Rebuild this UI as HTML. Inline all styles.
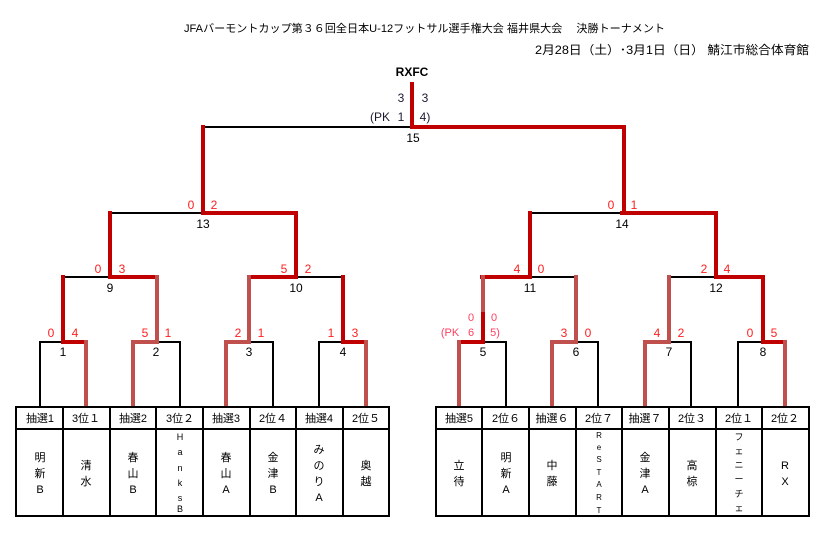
<!DOCTYPE html>
<html><head><meta charset="utf-8"><style>
html,body{margin:0;padding:0;background:#fff;}
svg{display:block;font-family:"Liberation Sans","Noto Sans CJK JP",sans-serif;}
</style></head><body>
<svg width="838" height="542" viewBox="0 0 838 542" xmlns="http://www.w3.org/2000/svg">
<rect width="838" height="542" fill="#fff"/>
<text x="184" y="32" font-size="11" fill="#000" textLength="481" lengthAdjust="spacingAndGlyphs">JFAバーモントカップ第３６回全日本U-12フットサル選手権大会  福井県大会　  決勝トーナメント</text>
<text x="535" y="54" font-size="12" fill="#000" textLength="274" lengthAdjust="spacingAndGlyphs">2月28日（土）･3月1日（日）  鯖江市総合体育館</text>
<text x="412" y="76" font-size="12" font-weight="bold" fill="#000" text-anchor="middle">RXFC</text>

<g fill="none" stroke-linecap="square">
<g stroke="#000" stroke-width="2">
<path d="M203 127H412"/>
<path d="M110 213H203 M296 277H343 M63 277H110"/>
<path d="M530 213H622 M530 277H576 M669 277H716"/>
<path d="M40 406V342H63 M156 342H180V406 M249 342H273V406 M319 406V342H343"/>
<path d="M483 342H506V406 M576 342H598V406 M669 342H691V406 M738 406V342H763"/>
</g>
<g stroke="#c00000" stroke-width="4">
<path d="M412 84V127H624V213"/>
<path d="M203 127V213"/>
<path d="M110 277V213 M203 213H296V277"/>
<path d="M622 213H716V277 M530 213V277"/>
<path d="M63 342V277 M110 277H157 M249 277H296 M343 277V342"/>
<path d="M482 277H530 M716 277H763V342"/>
<path d="M63 342H86 M343 342H366"/>
<path d="M483 310V342H459 M763 342H785"/>
</g>
<g stroke="#c0504d" stroke-width="4">
<path d="M86 342V406 M157 277V342H133V406 M249 277V342H226V406 M366 342V406"/>
<path d="M483 277V310 M459 342V406 M576 277V342H552V406 M669 277V342H645V406 M785 342V406"/>
</g>
</g>

<g font-size="12" fill="#000" text-anchor="middle">
<text x="413" y="142">15</text>
<text x="203" y="228">13</text><text x="622" y="228">14</text>
<text x="110" y="292">9</text><text x="296" y="292">10</text>
<text x="530" y="292">11</text><text x="716" y="292">12</text>
<text x="63" y="356">1</text><text x="156" y="356">2</text><text x="249" y="356">3</text><text x="343" y="356">4</text>
<text x="483" y="356">5</text><text x="576" y="356">6</text><text x="669" y="356">7</text><text x="763" y="356">8</text>
</g>
<g font-size="12" fill="#1a1a33" text-anchor="middle">
<text x="401" y="102">3</text><text x="425" y="102">3</text>
<text x="380" y="121">(PK</text><text x="401" y="121">1</text><text x="425" y="121">4)</text>
</g>
<g font-size="12" fill="#ff2020" text-anchor="middle">
<text x="191" y="209">0</text><text x="214" y="209">2</text>
<text x="611" y="209">0</text><text x="634" y="209">1</text>
<text x="98" y="273">0</text><text x="122" y="273">3</text>
<text x="284" y="273">5</text><text x="308" y="273">2</text>
<text x="517" y="273">4</text><text x="541" y="273">0</text>
<text x="704" y="273">2</text><text x="727" y="273">4</text>
<text x="51" y="337">0</text><text x="75" y="337">4</text>
<text x="145" y="337">5</text><text x="168" y="337">1</text>
<text x="238" y="337">2</text><text x="261" y="337">1</text>
<text x="331" y="337">1</text><text x="355" y="337">3</text>
<text x="564" y="337">3</text><text x="588" y="337">0</text>
<text x="657" y="337">4</text><text x="681" y="337">2</text>
<text x="750" y="337">0</text><text x="774" y="337">5</text>
</g>
<g font-size="11" fill="#ff4060" text-anchor="middle">
<text x="471" y="321">0</text><text x="494" y="321">0</text>
<text x="450" y="336">(PK</text><text x="471" y="336">6</text><text x="495" y="336">5)</text>
</g>

<g fill="none" stroke="#000" stroke-width="2">
<rect x="16" y="407" width="373" height="109"/>
<path d="M16 429H389 M63 407V516 M110 407V516 M156 407V516 M203 407V516 M250 407V516 M296 407V516 M343 407V516"/>
<rect x="436" y="407" width="373" height="109"/>
<path d="M436 429H809 M482 407V516 M529 407V516 M576 407V516 M622 407V516 M669 407V516 M716 407V516 M762 407V516"/>
</g>
<g font-size="11" fill="#000" text-anchor="middle">
<text x="40" y="422">抽選1</text><text x="86" y="422">3位１</text><text x="133" y="422">抽選2</text><text x="180" y="422">3位２</text>
<text x="226" y="422">抽選3</text><text x="273" y="422">2位４</text><text x="319" y="422">抽選4</text><text x="366" y="422">2位５</text>
<text x="459" y="422">抽選5</text><text x="506" y="422">2位６</text><text x="552" y="422">抽選６</text><text x="599" y="422">2位７</text>
<text x="645" y="422">抽選７</text><text x="692" y="422">2位３</text><text x="739" y="422">2位１</text><text x="785" y="422">2位２</text>
</g>
<g font-size="11" fill="#000" text-anchor="middle">
<text x="40" y="461">明</text><text x="40" y="477">新</text><text x="40" y="493">B</text>
<text x="86" y="469">清</text><text x="86" y="485">水</text>
<text x="133" y="461">春</text><text x="133" y="477">山</text><text x="133" y="493">B</text>
<text x="226" y="461">春</text><text x="226" y="477">山</text><text x="226" y="493">A</text>
<text x="273" y="461">金</text><text x="273" y="477">津</text><text x="273" y="493">B</text>
<text x="319" y="453">み</text><text x="319" y="469">の</text><text x="319" y="485">り</text><text x="319" y="501">A</text>
<text x="366" y="469">奥</text><text x="366" y="485">越</text>
<text x="459" y="469">立</text><text x="459" y="485">待</text>
<text x="506" y="461">明</text><text x="506" y="477">新</text><text x="506" y="493">A</text>
<text x="552" y="469">中</text><text x="552" y="485">藤</text>
<text x="645" y="461">金</text><text x="645" y="477">津</text><text x="645" y="493">A</text>
<text x="692" y="469">高</text><text x="692" y="485">椋</text>
<text x="785" y="469">R</text><text x="785" y="485">X</text>
</g>
<g font-size="9" fill="#000" text-anchor="middle">
<text x="180" y="440">H</text><text x="180" y="455">a</text><text x="180" y="471">n</text><text x="180" y="486">k</text><text x="180" y="501">s</text><text x="180" y="512">B</text>
<text x="739" y="440">フ</text><text x="739" y="454">ェ</text><text x="739" y="468">ニ</text><text x="739" y="482">ー</text><text x="739" y="497">チ</text><text x="739" y="511">ェ</text>
</g>
<g font-size="8" fill="#000" text-anchor="middle">
<text x="599" y="438">R</text><text x="599" y="450">e</text><text x="599" y="462">S</text><text x="599" y="475">T</text><text x="599" y="487">A</text><text x="599" y="500">R</text><text x="599" y="513">T</text>
</g>
</svg>
</body></html>
